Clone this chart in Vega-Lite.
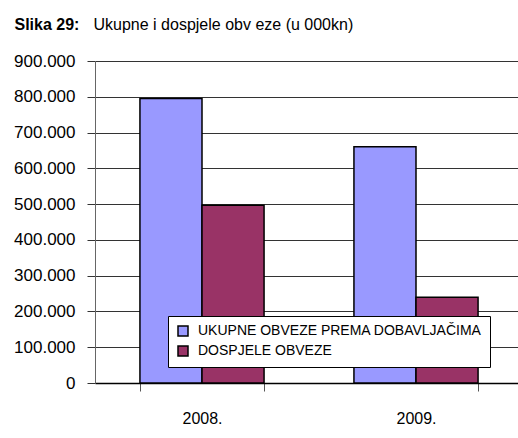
{
  "$schema": "https://vega.github.io/schema/vega-lite/v6.json",
  "width": 428,
  "height": 322,
  "autosize": "none",
  "padding": {"left": 95, "top": 61, "right": 0, "bottom": 55},
  "background": "white",
  "config": {
    "view": {"stroke": null},
    "font": "Liberation Sans"
  },
  "data": {
    "values": [
      {"godina": "2008.", "serija": "UKUPNE OBVEZE PREMA DOBAVLJAČIMA", "iznos": 795000},
      {"godina": "2008.", "serija": "DOSPJELE OBVEZE", "iznos": 497000},
      {"godina": "2009.", "serija": "UKUPNE OBVEZE PREMA DOBAVLJAČIMA", "iznos": 660000},
      {"godina": "2009.", "serija": "DOSPJELE OBVEZE", "iznos": 240000}
    ]
  },
  "mark": {"type": "bar", "stroke": "black", "strokeWidth": 1.5},
  "encoding": {
    "x": {
      "field": "godina",
      "type": "nominal",
      "scale": {"paddingInner": 0.42, "paddingOuter": 0.21},
      "axis": {
        "title": "Slika 29:",
        "titleX": -81,
        "titleY": -354,
        "titleAlign": "left",
        "titleBaseline": "alphabetic",
        "titleAngle": 0,
        "titleFontSize": 16,
        "titleFontWeight": "bold",
        "titleColor": "black",
        "labelAngle": 0,
        "labelFontSize": 16,
        "labelColor": "black",
        "labelPadding": 19,
        "labelBaseline": "top",
        "tickBand": "extent",
        "tickSize": 8,
        "tickColor": "#555",
        "domainColor": "black",
        "domainWidth": 1.5
      }
    },
    "xOffset": {"field": "serija", "type": "nominal", "sort": ["UKUPNE OBVEZE PREMA DOBAVLJAČIMA", "DOSPJELE OBVEZE"], "scale": {"paddingInner": 0, "paddingOuter": 0}},
    "y": {
      "field": "iznos",
      "type": "quantitative",
      "scale": {"domain": [0, 900000], "nice": false},
      "axis": {
        "values": [0, 100000, 200000, 300000, 400000, 500000, 600000, 700000, 800000, 900000],
        "labelExpr": "replace(format(datum.value, ','), ',', '.')",
        "title": "Ukupne i dospjele obv eze (u 000kn)",
        "titleX": -2,
        "titleY": -32,
        "titleAngle": 0,
        "titleAlign": "left",
        "titleBaseline": "alphabetic",
        "titleFontSize": 16,
        "titleFontWeight": "normal",
        "titleColor": "black",
        "labelFontSize": 17,
        "labelColor": "black",
        "labelPadding": 12,
        "tickSize": 8,
        "tickColor": "#333",
        "grid": true,
        "gridColor": "#333",
        "gridWidth": 1,
        "domainColor": "#666",
        "domainWidth": 1
      }
    },
    "fill": {
      "field": "serija",
      "type": "nominal",
      "sort": ["UKUPNE OBVEZE PREMA DOBAVLJAČIMA", "DOSPJELE OBVEZE"],
      "scale": {"range": ["#9999FF", "#993366"]},
      "legend": {
        "title": null,
        "orient": "none",
        "legendX": 73,
        "legendY": 255,
        "fillColor": "white",
        "strokeColor": "black",
        "padding": 8,
        "symbolType": "square",
        "symbolSize": 100,
        "symbolStrokeColor": "black",
        "symbolStrokeWidth": 1.5,
        "symbolOpacity": 1,
        "labelFontSize": 14,
        "labelLimit": 400,
        "labelColor": "black",
        "labelOffset": 8,
        "rowPadding": 4,
        "offset": 0
      }
    }
  }
}
